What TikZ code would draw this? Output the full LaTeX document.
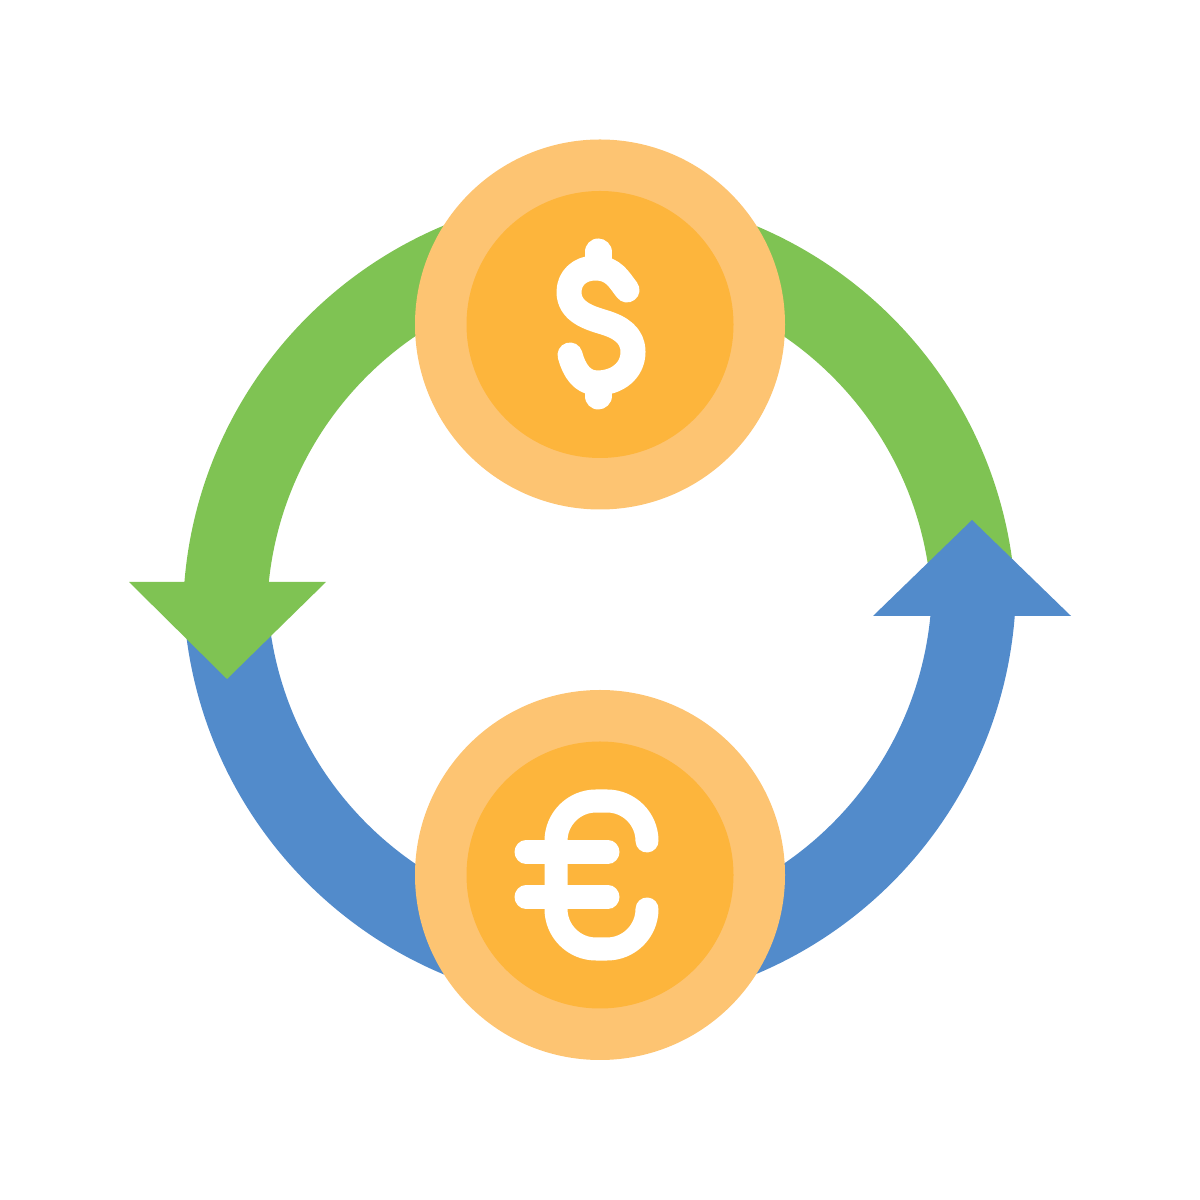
\documentclass[tikz,border=0pt]{standalone}
\usepackage{tikz}
\usetikzlibrary{arrows}

\definecolor{bandgreen}{HTML}{7FC353}
\definecolor{bandblue}{HTML}{528BCB}
\definecolor{coinrim}{HTML}{FDC472}
\definecolor{coinface}{HTML}{FDB53C}

\begin{document}
\begin{tikzpicture}[x=0.01cm,y=0.01cm,
    band/.style={line width=0.84cm},
    glyph/.style={draw=white,line width=0.23cm,line cap=round,line join=round},
    rim/.style={fill=coinrim},
    face/.style={fill=coinface}]

  \useasboundingbox (0,0) rectangle (1200,1200);

  \coordinate (T) at (600,875.5);
  \coordinate (B) at (600,325);

  % the four quarters of the ring
  \draw[band,bandgreen] (607,583) ++(90:382) arc[start angle=90,end angle=177,radius=382];
  \draw[band,bandgreen] (592,583) ++(90:382) arc[start angle=90,end angle=4,radius=382];
  \draw[band,bandblue] (592,617) ++(270:382) arc[start angle=270,end angle=357,radius=382];
  \draw[band,bandblue] (607,617) ++(270:382) arc[start angle=270,end angle=184,radius=382];

  % arrow heads
  \fill[bandgreen] (129,618) -- (326,618) -- (227,521) -- cycle;
  \fill[bandblue] (873,584) -- (1071,584) -- (972,680) -- cycle;

  % coins
  \fill[rim] (T) circle (185);
  \fill[face] (T) circle (133.5);
  \fill[rim] (B) circle (185);
  \fill[face] (B) circle (133.5);

  % dollar
  \draw[glyph,line width=0.25cm] (627,910) .. controls (619,920) and (614,932) .. (595,932)
    .. controls (580,932) and (569,922) .. (569,908)
    .. controls (569,888) and (590,882) .. (603,878)
    .. controls (620,873) and (633,865) .. (633,848)
    .. controls (633,830) and (618,817) .. (597,817)
    .. controls (582,817) and (574,830) .. (570,845);
  \draw[glyph,line width=0.27cm] (598,948) -- (598,936);
  \draw[glyph,line width=0.27cm] (598,804) -- (598,814);

  % euro
  \draw[glyph] (647,359) arc[start angle=0,end angle=90,radius=40] -- (596,399)
    arc[start angle=90,end angle=180,radius=40] -- (556,291)
    arc[start angle=180,end angle=270,radius=40] -- (607,251)
    arc[start angle=270,end angle=360,radius=40];
  \draw[glyph] (526,348) -- (608,348);
  \draw[glyph] (526,303) -- (608,303);

\end{tikzpicture}
\end{document}
